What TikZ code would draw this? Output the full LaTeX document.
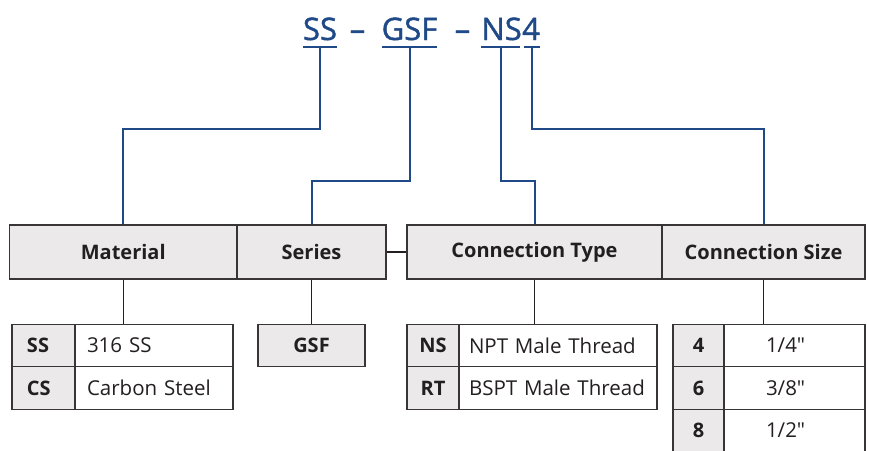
\documentclass[tikz,border=0pt]{standalone}
\usepackage{fontspec}
\setmainfont{Open Sans}[Ligatures=TeXOff]
\newfontfamily\partfont{Open Sans}[FakeBold=1.3]
\usepackage{tikz}
\usetikzlibrary{shapes,arrows}
\definecolor{codeblue}{RGB}{31,73,135}
\definecolor{boxgray}{RGB}{235,233,234}
\definecolor{ink}{RGB}{35,31,32}
\tikzstyle{code} = [inner sep=0pt, text=codeblue, font=\partfont\fontsize{31}{34}\selectfont]
\tikzstyle{head} = [rectangle, draw=ink!90, line width=1.2pt, fill=boxgray, minimum height=54pt, inner sep=0pt, text=ink, font=\fontsize{20}{24}\selectfont\bfseries]
\tikzstyle{keycell} = [rectangle, draw=ink!90, line width=1.2pt, fill=boxgray, minimum height=42.5pt, inner sep=0pt, text=ink, font=\fontsize{20}{24}\selectfont\bfseries]
\tikzstyle{valcell} = [rectangle, draw=ink!90, line width=1.2pt, fill=white, minimum height=42.5pt, inner ysep=0pt, align=left, text=ink, font=\fontsize{20.5}{24}\selectfont]
\tikzstyle{codeline} = [draw, codeblue, line width=2pt]
\tikzstyle{line} = [draw, ink, line width=1.4pt]

\begin{document}
\begin{tikzpicture}[x=1pt, y=-1pt]
\useasboundingbox (0,0) rectangle (869,450);

% part number
\node [code, anchor=base] at (320, 40) (ss) {SS};
\node [code, anchor=base] at (357.5, 40) (dashA) {–};
\node [code, anchor=base] at (409.5, 40) (gsf) {GSF};
\node [code, anchor=base] at (462.5, 40) (dashB) {–};
\node [code, anchor=base east] at (522, 40) (ns) {NS};
\node [code, anchor=base west] at (ns.base east) (four) {4};

\path [codeline] ([yshift=-7pt]ss.base west) to ([yshift=-7pt]ss.base east);
\path [codeline] ([yshift=-7pt]gsf.base west) to ([yshift=-7pt]gsf.base east);
\path [codeline] ([yshift=-7pt]ns.base west) to ([xshift=-2pt, yshift=-7pt]ns.base east);
\path [codeline] ([xshift=2pt, yshift=-7pt]four.base west) to ([yshift=-7pt]four.base east);

% headings
\node [head, minimum width=227.5pt] at (123.25, 252) (mat) {Material};
\node [head, minimum width=149pt] at (311.5, 252) (ser) {Series};
\node [head, minimum width=255pt] at (534.5, 252) (ctype) {Connection Type};
\node [head, minimum width=203pt] at (763.5, 252) (csize) {Connection Size};
\path [line] (ser.east) to (ctype.west);

\path [codeline] ([yshift=-7pt]ss.base) -- ++(0,82) -| (mat.north);
\path [codeline] ([yshift=-7pt]gsf.base) -- ++(0,134) -| (ser.north);
\path [codeline] ([xshift=-1pt, yshift=-7pt]ns.base) -- ++(0,134) -| (ctype.north);
\path [codeline] ([xshift=1pt, yshift=-7pt]four.base) -- ++(0,82) -| (csize.north);

% material
\node [keycell, text width=33pt, inner xsep=15pt, align=left] at (43.5, 345.5) (ssk) {SS};
\node [valcell, text width=134pt, inner xsep=12pt] at (154, 345.5) (ssv) {316 SS};
\node [keycell, text width=33pt, inner xsep=15pt, align=left] at (43.5, 388) (csk) {CS};
\node [valcell, text width=134pt, inner xsep=12pt] at (154, 388) (csv) {Carbon Steel};
\path [line] (mat.south) to (mat.south |- ssk.north);

% series
\node [keycell, minimum width=107pt] at (311.5, 345.5) (gsfk) {GSF};
\path [line] (ser.south) to (gsfk.north);

% connection type
\node [keycell, minimum width=52pt] at (433, 345.5) (nsk) {NS};
\node [valcell, text width=178pt, inner xsep=10pt] at (558, 345.5) (nsv) {NPT Male Thread};
\node [keycell, minimum width=52pt] at (433, 388) (rtk) {RT};
\node [valcell, text width=178pt, inner xsep=10pt] at (558, 388) (rtv) {BSPT Male Thread};
\path [line] (ctype.south) to (ctype.south |- nsk.north);

% connection size
\node [keycell, minimum width=51pt] at (698.5, 345.5) (k4) {4};
\node [valcell, text width=57pt, inner xsep=42pt] at (794.5, 345.5) (v4) {1/4"};
\node [keycell, minimum width=51pt] at (698.5, 388) (k6) {6};
\node [valcell, text width=57pt, inner xsep=42pt] at (794.5, 388) (v6) {3/8"};
\node [keycell, minimum width=51pt] at (698.5, 430.5) (k8) {8};
\node [valcell, text width=57pt, inner xsep=42pt] at (794.5, 430.5) (v8) {1/2"};
\path [line] (csize.south) to (csize.south |- k4.north);

\end{tikzpicture}
\end{document}
